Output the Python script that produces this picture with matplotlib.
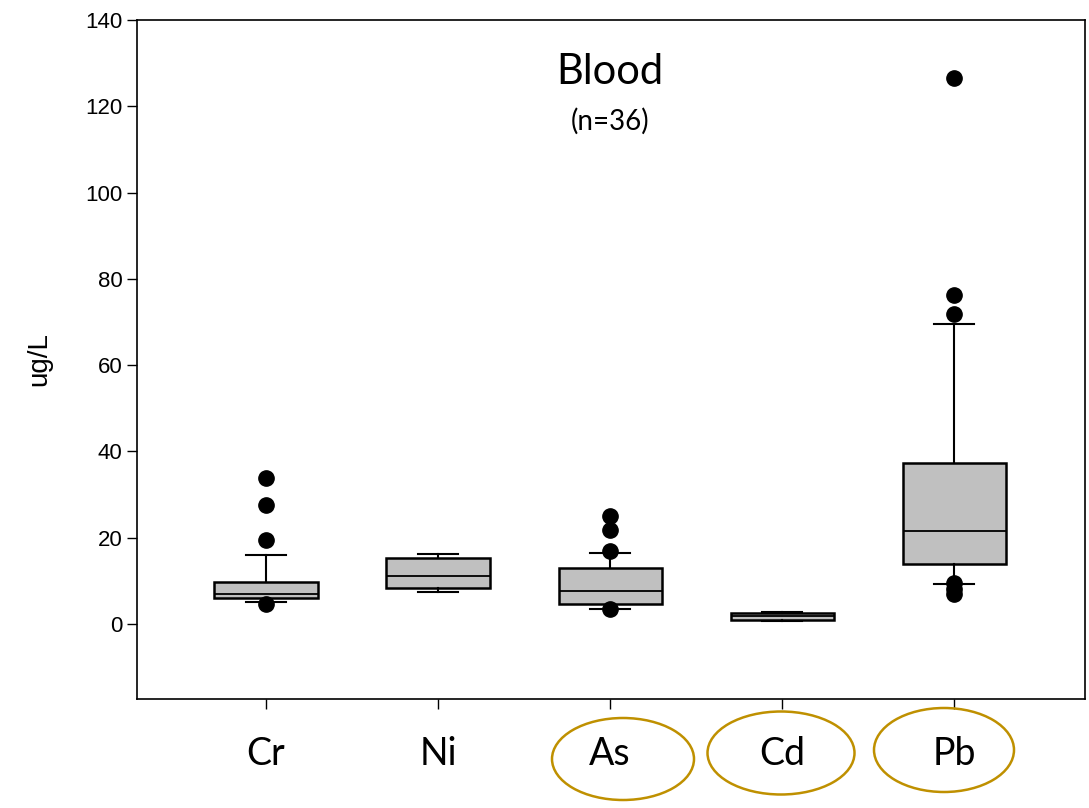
import matplotlib.pyplot as plt
from matplotlib.patches import Ellipse

metals = ['Cr', 'Ni', 'As', 'Cd', 'Pb']
q1 = [6.0, 8.3, 4.6, 0.9, 13.9]
med = [7.0, 11.1, 7.7, 1.8, 21.6]
q3 = [9.7, 15.3, 13.0, 2.6, 37.3]
whislo = [5.1, 7.4, 3.5, 0.7, 9.3]
whishi = [16.0, 16.3, 16.5, 2.7, 69.5]
fliers = [
    [33.8, 27.5, 19.5, 4.5],
    [],
    [25.0, 21.8, 17.0, 3.4],
    [],
    [126.7, 76.3, 71.8, 9.5, 8.0, 7.0],
]
circled = ['As', 'Cd', 'Pb']

fig = plt.figure(figsize=(10.89, 8.08), dpi=100)
ax = fig.add_axes([0.1258, 0.135, 0.8705, 0.84])

stats = []
for i, m in enumerate(metals):
    stats.append(dict(label=m, q1=q1[i], med=med[i], q3=q3[i],
                      whislo=whislo[i], whishi=whishi[i], fliers=fliers[i]))

pos = list(range(1, len(metals) + 1))
ax.bxp(stats, positions=pos, widths=0.6, capwidths=0.23, patch_artist=True,
       boxprops=dict(facecolor='#c0c0c0', edgecolor='black', linewidth=1.8),
       medianprops=dict(color='black', linewidth=1.3),
       whiskerprops=dict(color='black', linewidth=1.5),
       capprops=dict(color='black', linewidth=1.5),
       flierprops=dict(marker='o', markerfacecolor='black', markeredgecolor='black',
                       markersize=11),
       zorder=3)

ax.set_xlim(0.25, 5.76)
ax.set_ylim(-17.4, 140)
ax.set_yticks(range(0, 141, 20))
ax.set_xticks(pos)
ax.set_xticklabels(metals, fontfamily='Lato', fontsize=27)
ax.tick_params(axis='x', direction='out', length=7, width=1, pad=20)
ax.tick_params(axis='y', direction='out', length=7, width=1, labelsize=16)
for lbl in ax.get_yticklabels():
    lbl.set_fontfamily('Liberation Sans')
for sp in ax.spines.values():
    sp.set_linewidth(1.2)
ax.set_ylabel('ug/L', fontsize=20, fontfamily='Liberation Sans', labelpad=24)

ax.text(3.0, 128, 'Blood', ha='center', va='center', fontsize=30, fontfamily='Lato')
ax.text(3.0, 116.5, '(n=36)', ha='center', va='center', fontsize=20, fontfamily='Lato')

# gold circles around the tick labels
W, H = 1089.0, 808.0
for m, (cx, cy, w, h) in zip(circled, [(623, 759, 142, 82), (781, 753, 147, 83), (944, 750, 140, 84)]):
    e = Ellipse((cx / W, 1 - cy / H), w / W, h / H, transform=fig.transFigure,
                fill=False, edgecolor='#bf9000', linewidth=1.8)
    fig.patches.append(e)

fig.savefig('out.png', dpi=100)
